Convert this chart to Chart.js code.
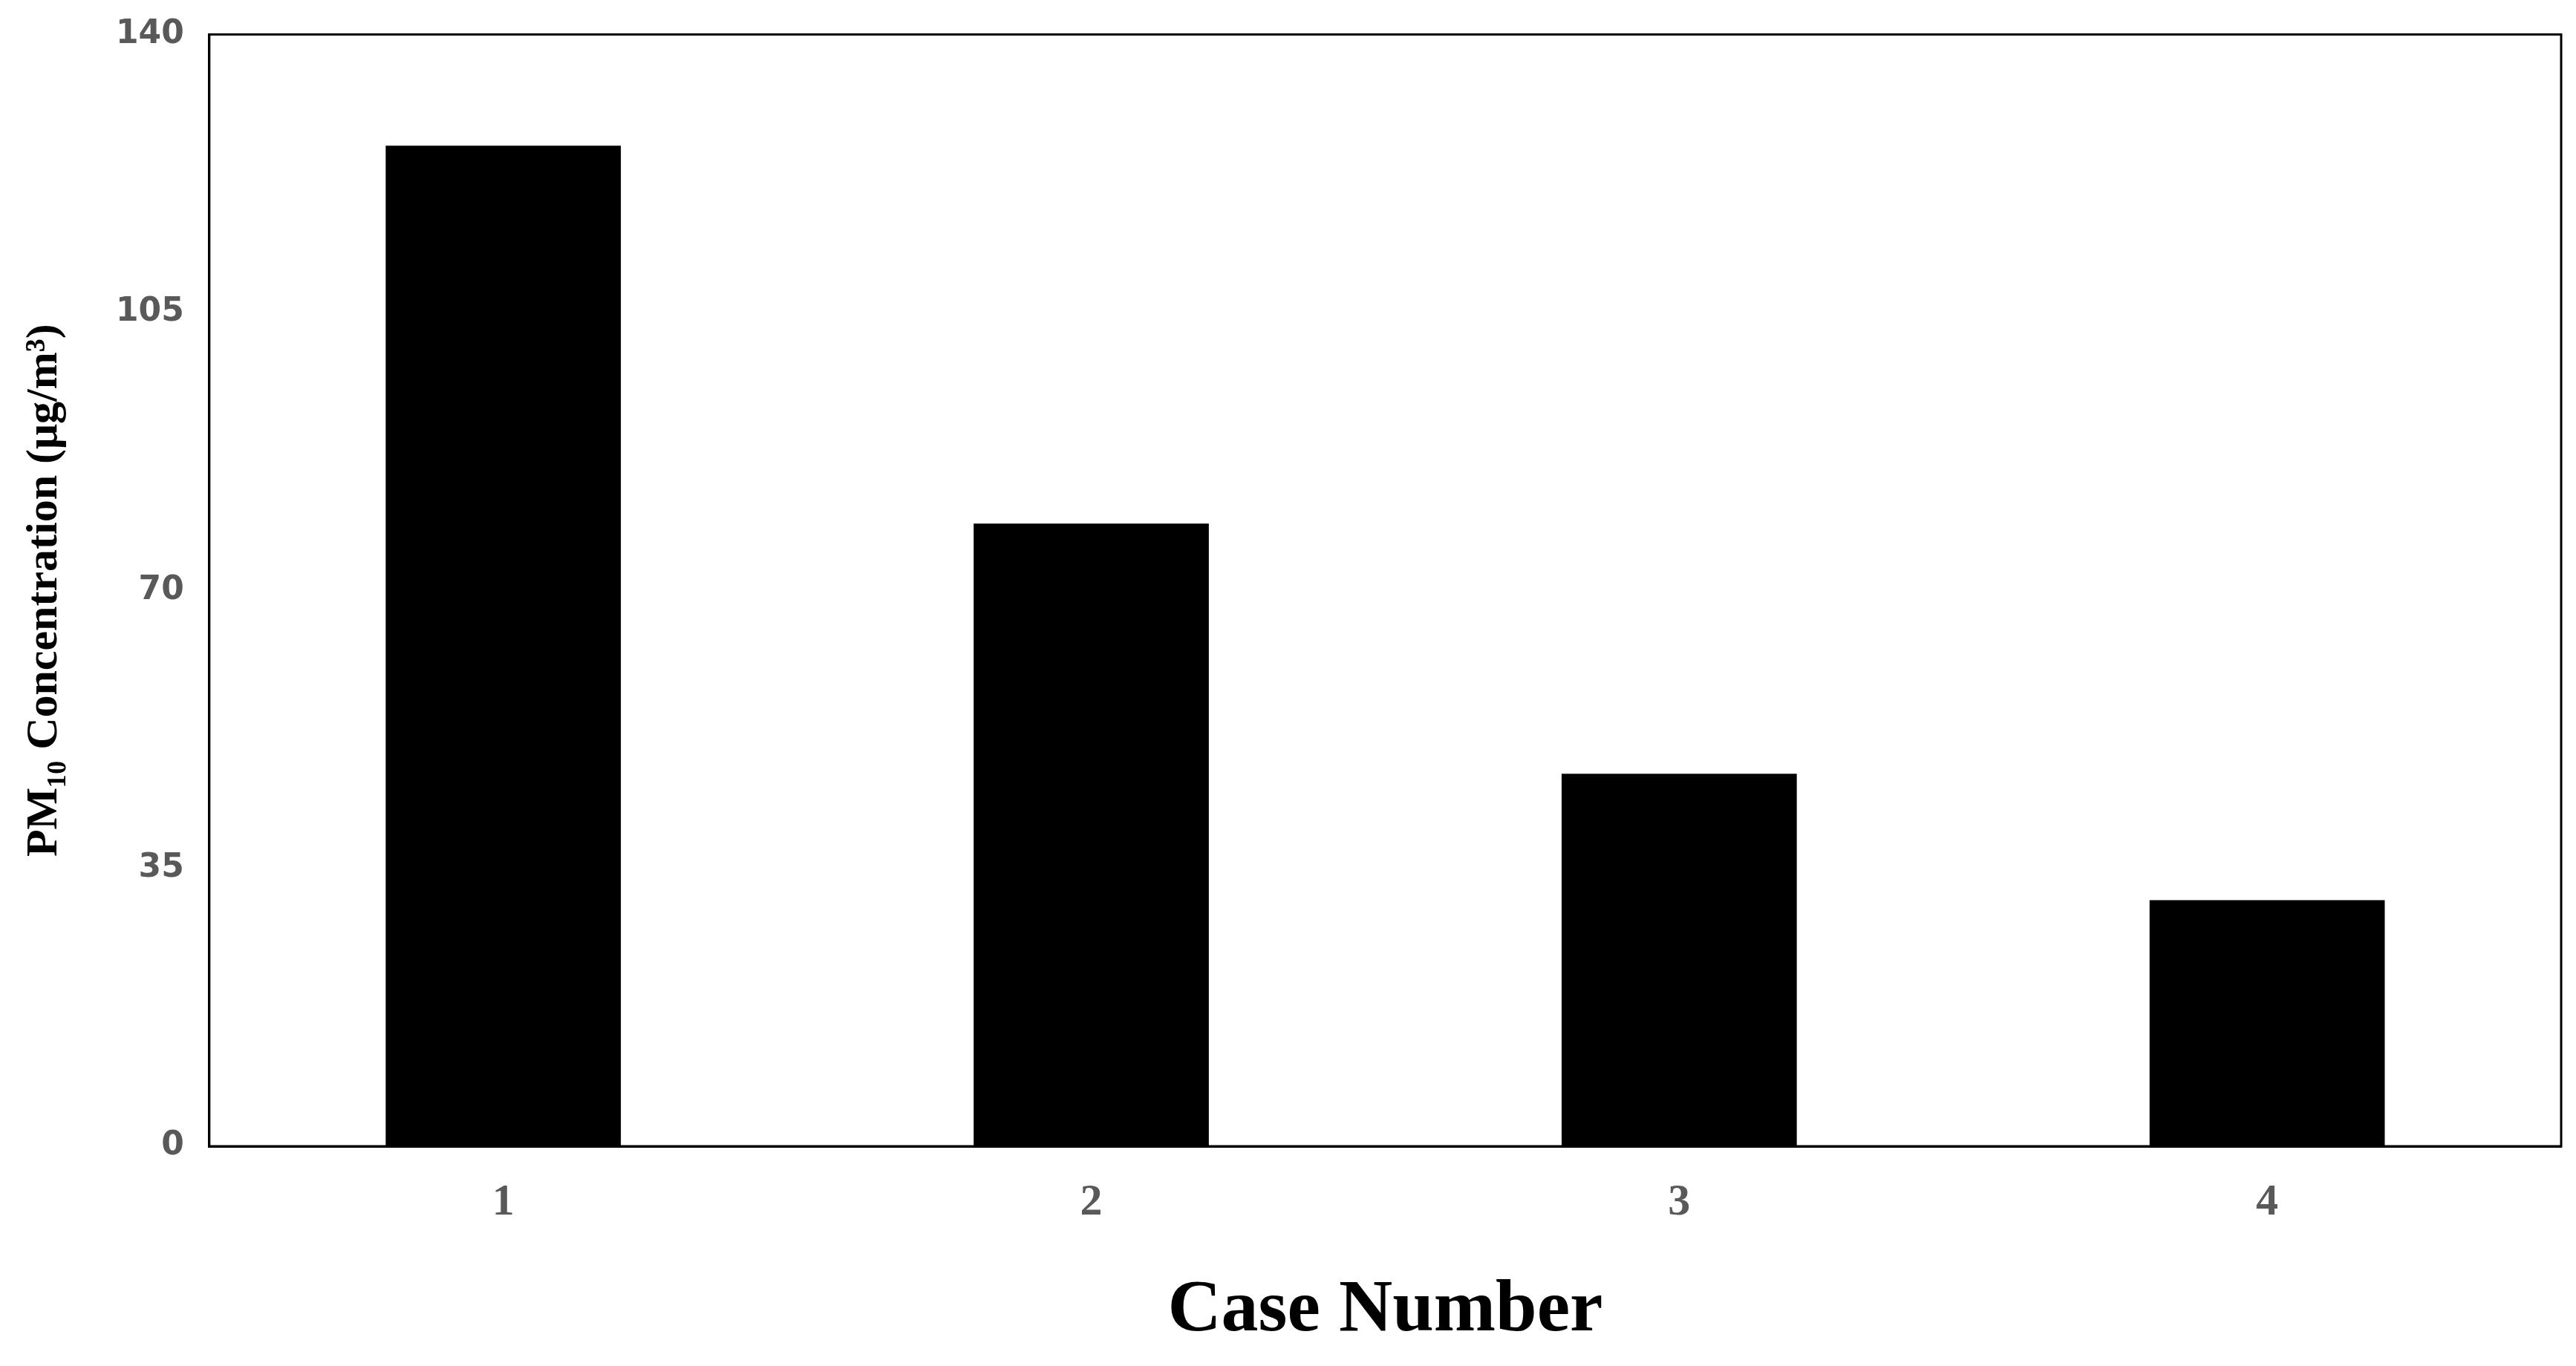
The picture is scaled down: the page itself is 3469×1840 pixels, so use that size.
<!DOCTYPE html>
<html><head><meta charset="utf-8">
<script src="https://cdn.jsdelivr.net/npm/chart.js@4/dist/chart.umd.min.js"></script>
<style>html,body{margin:0;padding:0;background:#fff}#w{width:3469px;height:1840px}</style>
</head><body><div id="w"><canvas id="c"></canvas></div>
<script>
const categories = ["1","2","3","4"];
const pm10Values = [126, 78.4, 46.9, 31];
const yTicks = [0, 35, 70, 105, 140];

const frame = {id:'frame', afterDraw(c){const a=c.chartArea,x=c.ctx;x.save();x.strokeStyle='#000';x.lineWidth=3;x.strokeRect(a.left,a.top,a.right-a.left,a.bottom-a.top);x.restore();}};
new Chart(document.getElementById('c'),{
 type:'bar',
 data:{labels:categories,datasets:[{data:pm10Values,backgroundColor:'#000',categoryPercentage:0.4,barPercentage:1}]},
 options:{responsive:true,maintainAspectRatio:false,animation:false,
  layout:{padding:{top:46,right:20,left:20,bottom:10}},
  plugins:{legend:{display:false},tooltip:{enabled:false}},
  scales:{
   x:{grid:{display:false,drawTicks:false},border:{color:'#000',width:3},
      ticks:{color:'#595959',padding:40,font:{family:'Liberation Serif',weight:'bold',size:60}},
      title:{display:true,text:'Case Number',color:'#000',padding:{top:10},font:{family:'Liberation Serif',weight:'bold',size:100}}},
   y:{min:0,max:140,afterBuildTicks(s){s.ticks=yTicks.map(v=>({value:v}));},
      grid:{display:false,drawTicks:true,tickLength:14,tickColor:'#000',tickWidth:3},border:{color:'#000',width:3},
      ticks:{color:'#595959',padding:20,font:{family:'DejaVu Sans',weight:'bold',size:44}},
      title:{display:true,text:'PM₁₀ Concentration (μg/m³)',color:'#000',padding:{bottom:40},font:{family:'Liberation Serif',weight:'bold',size:60}}}
  }},
 plugins:[frame]
});
</script></body></html>
